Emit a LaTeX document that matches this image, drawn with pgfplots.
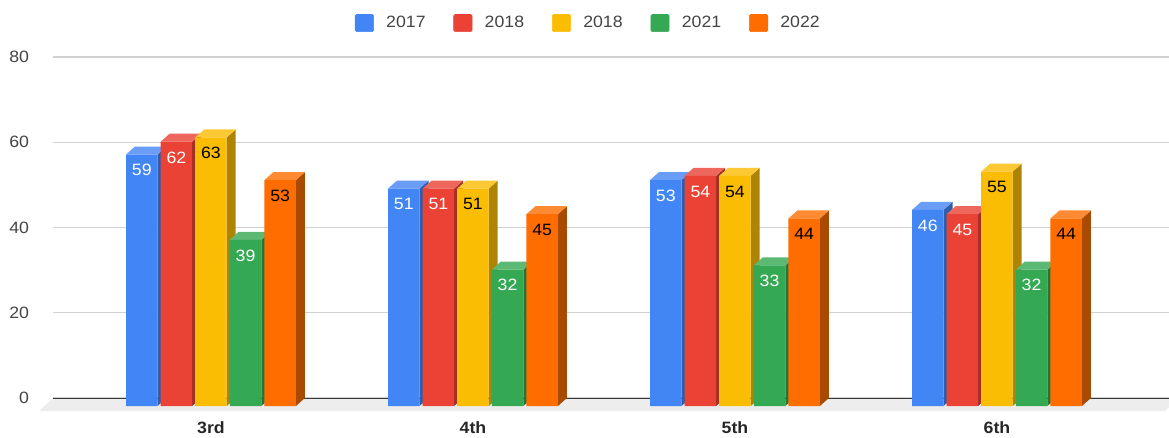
\documentclass[border=0pt]{standalone}
\usepackage{pgfplots}
\pgfplotsset{compat=1.18}
\usepackage{fontspec}
\setmainfont[FakeStretch=1.08]{Liberation Sans}
\definecolor{cA}{HTML}{4285F4}\definecolor{cAt}{HTML}{6A9DF6}\definecolor{cAs}{HTML}{2E5DAB}
\definecolor{cB}{HTML}{EA4335}\definecolor{cBt}{HTML}{EE675D}\definecolor{cBs}{HTML}{A32F25}
\definecolor{cC}{HTML}{FBBC04}\definecolor{cCt}{HTML}{FCC934}\definecolor{cCs}{HTML}{AF8303}
\definecolor{cD}{HTML}{34A853}\definecolor{cDt}{HTML}{5BB974}\definecolor{cDs}{HTML}{247539}
\definecolor{cE}{HTML}{FF6D01}\definecolor{cEt}{HTML}{FF8A34}\definecolor{cEs}{HTML}{A84A00}
\definecolor{txt}{HTML}{444444}
% side and top face of one bar: group, series, value, colour prefix
\newcommand{\faces}[4]{%
  \pgfmathsetmacro{\xa}{#1+(-85+34.6*#2)/262}%
  \pgfmathsetmacro{\xb}{\xa+31.5/262}%
  \pgfmathsetmacro{\xc}{\xb+9/262}%
  \pgfmathsetmacro{\xd}{\xa+9/262}%
  \pgfmathsetmacro{\yf}{#3-1.877}%
  \addplot[forget plot,draw=none,fill=#4s] coordinates {(\xb,-1.877) (\xb,\yf) (\xc,#3) (\xc,0)} --cycle;
  \addplot[forget plot,draw=none,fill=#4t] coordinates {(\xa,\yf) (\xb,\yf) (\xc,#3) (\xd,#3)} --cycle;
}
% front faces of one series: series, colour prefix, label colour, four values
\newcommand{\fronts}[7]{%
  \addplot[forget plot,ybar,bar width=23.625pt,bar shift={(-69.25+34.6*#1)*0.75pt},draw=none,fill=#2,yshift=-6pt,
    nodes near coords,nodes near coords align={below},
    every node near coord/.append style={text=#3,font=\fontsize{12.3}{14}\selectfont,xshift={(-69.25+34.6*#1)*0.75pt},yshift=-5.25pt,inner sep=2pt,/pgf/number format/assume math mode=true}]
    coordinates {(0,#4) (1,#5) (2,#6) (3,#7)};
}
\newcommand{\series}[7]{%
  \faces{0}{#1}{#4}{#2}\faces{1}{#1}{#5}{#2}\faces{2}{#1}{#6}{#2}\faces{3}{#1}{#7}{#2}%
  \fronts{#1}{#2}{#3}{#4}{#5}{#6}{#7}%
}
\pgfplotsset{squareleg/.style={legend image code/.code={%
  \fill[##1,rounded corners=1pt] (0pt,-6.4pt) rectangle (13.8pt,6.4pt);}}}
\begin{document}
\begin{tikzpicture}
\path[use as bounding box] (-39.75pt,-29.25pt) rectangle (837pt,298.5pt);
\begin{axis}[
  scale only axis, width=837pt, height=255.75pt,
  xmin=-0.6031, xmax=3.6565, ymin=0, ymax=80,
  clip=false,
  axis line style={draw=none},
  major tick length=0pt,
  ytick={0,20,40,60,80},
  xtick={0,1,2,3},
  xticklabels={3rd,4th,5th,6th},
  ymajorgrids,
  grid style={draw=black!18,line width=0.9pt},
  /pgf/number format/assume math mode=true,
  tick label style={font=\fontsize{12.3}{14}\selectfont},
  yticklabel style={text=txt,xshift=-14.5pt},
  xticklabel style={font=\fontsize{12.3}{14}\selectfont\bfseries,text=black!85,yshift=-14pt},
  legend columns=5,
  legend cell align=left,
  legend style={at={(rel axis cs:0.4794,1.0996)},anchor=center,draw=none,fill=none,
    font=\fontsize{12.3}{14}\selectfont,text=txt,
    /tikz/every odd column/.append style={column sep=8.25pt},
    /tikz/every even column/.append style={column sep=19.9pt},
    nodes={inner sep=1pt}},
]
\addlegendimage{squareleg,cA}\addlegendentry{2017}
\addlegendimage{squareleg,cB}\addlegendentry{2018}
\addlegendimage{squareleg,cC}\addlegendentry{2018}
\addlegendimage{squareleg,cD}\addlegendentry{2021}
\addlegendimage{squareleg,cE}\addlegendentry{2022}
\addplot[forget plot,draw=none,fill=black!7] coordinates {(-0.6031,0) (3.6565,0) (3.6565,-2.2) (3.641,-3.05) (-0.6565,-3.05)} --cycle;
\addplot[forget plot,draw=black!78,line width=0.75pt] coordinates {(-0.6031,0) (3.6565,0)};
\series{0}{cA}{white}{59}{51}{53}{46}
\series{1}{cB}{white}{62}{51}{54}{45}
\series{2}{cC}{black}{63}{51}{54}{55}
\series{3}{cD}{white}{39}{32}{33}{32}
\series{4}{cE}{black}{53}{45}{44}{44}
\end{axis}
\end{tikzpicture}
\end{document}
